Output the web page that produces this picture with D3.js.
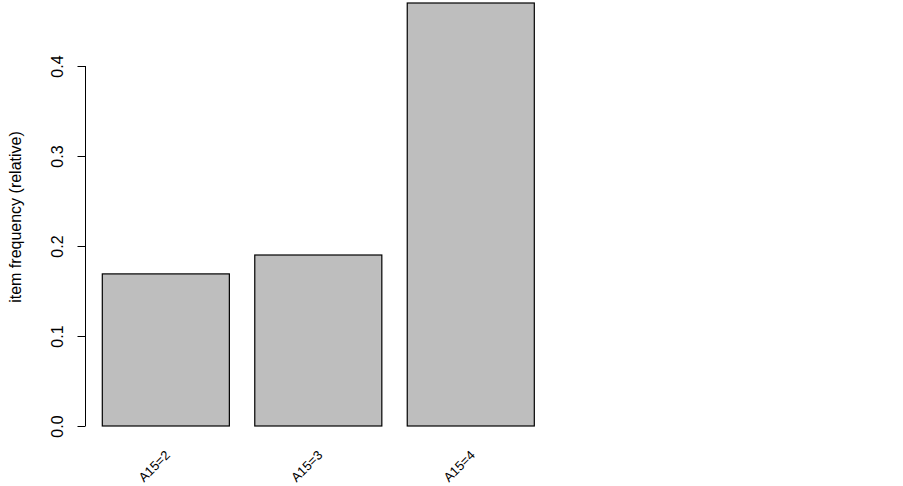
<!DOCTYPE html>
<html>
<head>
<meta charset="utf-8">
<script src="https://cdn.jsdelivr.net/npm/d3@7"></script>
<style>
  body { margin: 0; background: #fff; }
  text { font-family: "Liberation Sans", Arial, sans-serif; fill: #000; }
</style>
</head>
<body>
<div id="chart"></div>
<script>
// item frequencies
const items = ["A15=2", "A15=3", "A15=4"];
const freq = [0.169, 0.19, 0.47];
const yTicks = [0, 0.1, 0.2, 0.3, 0.4];

const width = 903, height = 486;

let svg = d3.select("#chart").append("svg")
  .attr("width", width)
  .attr("height", height);

let x = d3.scaleBand()
  .domain(items)
  .range([102.3, 534.3])
  .paddingInner(1 / 6)
  .paddingOuter(0);

let y = d3.scaleLinear()
  .domain([0, 0.4])
  .range([426, 66]);

// bars
svg.selectAll(".bar")
  .data(items)
  .enter()
  .append("rect")
    .attr("class", "bar")
    .attr("x", d => x(d))
    .attr("y", (d, i) => y(freq[i]))
    .attr("width", x.bandwidth())
    .attr("height", (d, i) => y(0) - y(freq[i]))
    .style("fill", "#bebebe")
    .style("stroke", "#000")
    .style("stroke-width", 1.2);

// y axis, R style
let yAxis = d3.axisLeft(y)
  .tickValues(yTicks)
  .tickFormat(d3.format(".1f"))
  .tickSize(8)
  .tickSizeOuter(0);

let gy = svg.append("g")
  .attr("transform", "translate(85.5,0)")
  .call(yAxis);
gy.select(".domain").attr("stroke", "#000").attr("d", `M0,${y(0)}V${y(0.4)}`);
gy.selectAll(".tick line").attr("stroke", "#000");
gy.selectAll(".tick text")
  .attr("x", 0).attr("dy", 0)
  .attr("transform", "translate(-23,0) rotate(-90)")
  .attr("text-anchor", "middle")
  .style("font-size", "16px");

// y label
svg.append("text")
  .attr("transform", "translate(21,217) rotate(-90)")
  .attr("text-anchor", "middle")
  .style("font-size", "16px")
  .text("item frequency (relative)");

// rotated item labels
svg.selectAll(".xlab")
  .data(items)
  .enter()
  .append("text")
    .attr("class", "xlab")
    .attr("transform", d => `translate(${x(d) + x.bandwidth() / 2 + 5},${456}) rotate(-45)`)
    .attr("text-anchor", "end")
    .style("font-size", "13px")
    .text(d => d);
</script>
</body>
</html>
